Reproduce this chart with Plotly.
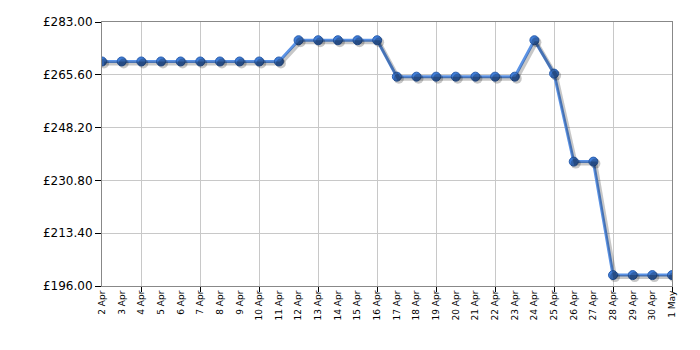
import plotly.graph_objects as go

dates = ["2 Apr", "3 Apr", "4 Apr", "5 Apr", "6 Apr", "7 Apr", "8 Apr", "9 Apr", "10 Apr", "11 Apr",
         "12 Apr", "13 Apr", "14 Apr", "15 Apr", "16 Apr", "17 Apr", "18 Apr", "19 Apr", "20 Apr",
         "21 Apr", "22 Apr", "23 Apr", "24 Apr", "25 Apr", "26 Apr", "27 Apr", "28 Apr", "29 Apr",
         "30 Apr", "1 May"]
prices = [269.99, 269.99, 269.99, 269.99, 269.99, 269.99, 269.99, 269.99, 269.99, 269.99,
          276.99, 276.99, 276.99, 276.99, 276.99, 264.99, 264.99, 264.99, 264.99,
          264.99, 264.99, 264.99, 276.99, 265.99, 236.99, 236.99, 199.59, 199.59,
          199.59, 199.59]
y_ticks = [196.00, 213.40, 230.80, 248.20, 265.60, 283.00]
y_labels = ["£%.2f" % v for v in y_ticks]

idx = list(range(len(dates)))
xr = [0, len(dates) - 1]
yr = [196.0, 283.0]
# shadow offset: ~2px right/down
px_per_x = 570 / (xr[1] - xr[0])
px_per_y = 264 / (yr[1] - yr[0])
dx = 2 / px_per_x
dy = 2 / px_per_y

fig = go.Figure()
# shadow
fig.add_trace(go.Scatter(x=idx, y=prices, mode="lines+markers", xaxis="x2", yaxis="y2",
                         line=dict(color="rgba(0,0,0,0.22)", width=4),
                         marker=dict(size=10, color="rgba(0,0,0,0.22)"),
                         hoverinfo="skip", showlegend=False))
fig.add_trace(go.Scatter(x=idx, y=prices, mode="lines+markers",
                         line=dict(color="#5b93e6", width=3),
                         marker=dict(size=9, color="#3f7dd8", line=dict(color="#2b5fae", width=1)),
                         showlegend=False))

fig.update_layout(
    width=700, height=350,
    margin=dict(l=102, r=28, t=22, b=64),
    paper_bgcolor="white", plot_bgcolor="white",
    font=dict(family="DejaVu Sans, Verdana, sans-serif", color="#000"),
    xaxis=dict(range=xr, tickmode="array", tickvals=idx, ticktext=dates, tickangle=-90,
               tickfont=dict(size=9), showgrid=False, ticks="", zeroline=False,
               showline=True, linecolor="#888", linewidth=1, mirror=True,
               minor=dict(tick0=2, dtick=3, showgrid=True, gridcolor="#c8c8c8", gridwidth=1,
                          ticks="outside", ticklen=5, tickcolor="#000")),
    yaxis=dict(range=yr, tickmode="array", tickvals=y_ticks, ticktext=y_labels,
               tickfont=dict(size=12), showgrid=True, gridcolor="#c8c8c8", zeroline=False,
               ticks="outside", ticklen=6, tickcolor="#000",
               showline=True, linecolor="#888", linewidth=1, mirror=True),
    xaxis2=dict(range=[xr[0] - dx, xr[1] - dx], overlaying="x", visible=False),
    yaxis2=dict(range=[yr[0] + dy, yr[1] + dy], overlaying="y", visible=False),
)

fig.write_html("out.html")
